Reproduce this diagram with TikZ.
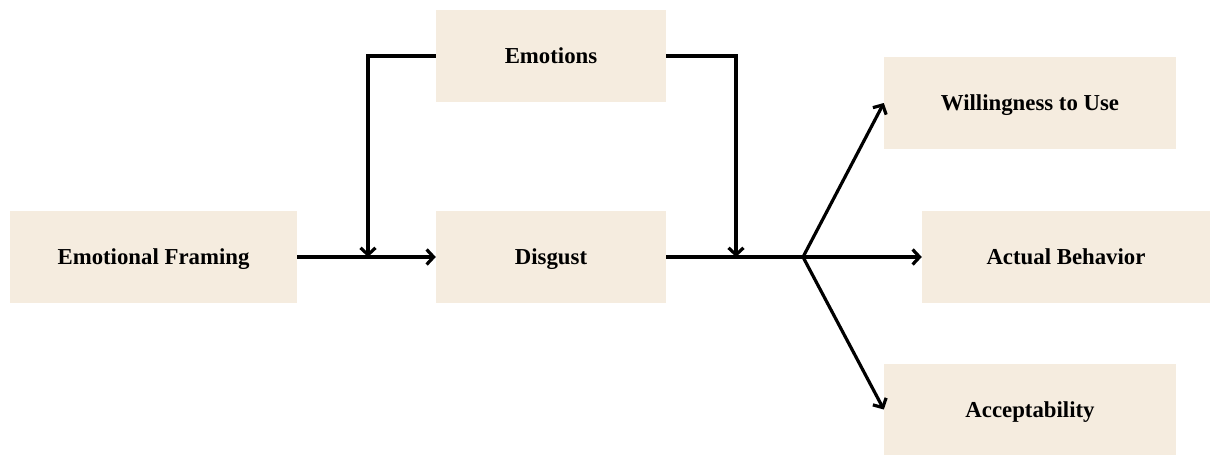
\documentclass[tikz,border=0pt]{standalone}
\usepackage{fontspec}
\setmainfont{Liberation Serif}
\usetikzlibrary{arrows.meta}
\definecolor{boxfill}{HTML}{F5ECDF}
\tikzset{
  box/.style={fill=boxfill, draw=none, inner sep=0pt, font=\fontsize{22.8}{27}\selectfont\bfseries, text=black, text height=15pt, text depth=0pt},
  conn/.style={line width=3.2pt, black, line join=miter},
  arr/.style={conn, -{Straight Barb[length=7pt,width=15pt,line width=3.2pt]}}
}
\begin{document}
\begin{tikzpicture}[x=1pt,y=-1pt]
\useasboundingbox (0,0) rectangle (1211,455);
\node[box, minimum width=230pt, minimum height=92pt] (em) at (551,56) {Emotions};
\node[box, minimum width=287pt, minimum height=92pt] (fr) at (153.5,257) {Emotional Framing};
\node[box, minimum width=230pt, minimum height=92pt] (dg) at (551,257) {Disgust};
\node[box, minimum width=292pt, minimum height=92pt] (wu) at (1030,103) {Willingness to Use};
\node[box, minimum width=288pt, minimum height=92pt] (ab) at (1066,257) {Actual Behavior};
\node[box, minimum width=292pt, minimum height=91pt] (ac) at (1030,409.5) {Acceptability};
\coordinate (jl) at (368,257);
\coordinate (jr) at (736,257);
\coordinate (br) at (803,257);
\draw[arr] (fr.east) -- (dg.west);
\draw[arr] (em.west) -| (jl);
\draw[arr] (em.east) -| (jr);
\draw[conn] (dg.east) -- (br);
\draw[arr] (br) -- (wu.west);
\draw[arr] (br) -- (ab.west);
\draw[arr] (br) -- (ac.west);
\end{tikzpicture}
\end{document}
